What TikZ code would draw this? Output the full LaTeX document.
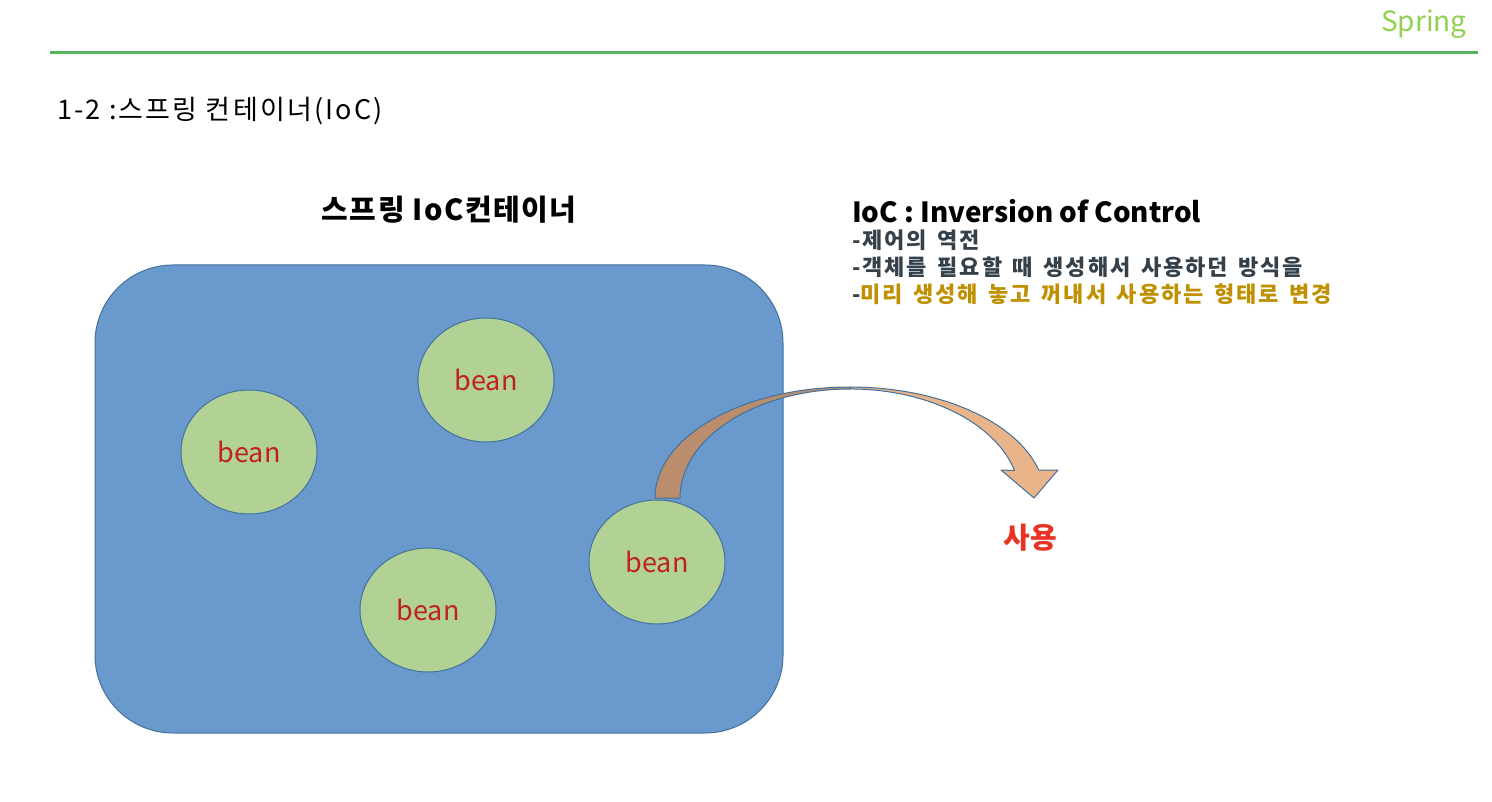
\documentclass[tikz,border=0pt]{standalone}
\usepackage{fontspec}
\setmainfont{Noto Sans CJK KR}
\newfontfamily\krtitle[LetterSpace=8.2]{Noto Sans CJK KR}
\newfontfamily\krlabel[LetterSpace=5]{Noto Sans CJK KR}
\newfontfamily\krinfo[LetterSpace=9,WordSpace=1.5]{Noto Sans CJK KR}
\usetikzlibrary{shapes.geometric}
\definecolor{boxblue}{RGB}{106,153,206}
\definecolor{edgeblue}{RGB}{65,113,156}
\definecolor{beangreen}{RGB}{178,209,149}
\definecolor{beanred}{RGB}{192,32,32}
\definecolor{arrowdark}{RGB}{186,142,108}
\definecolor{arrowlight}{RGB}{233,180,138}
\definecolor{hdrgreen}{RGB}{84,180,92}
\definecolor{springgreen}{RGB}{146,208,80}
\definecolor{slate}{RGB}{52,64,74}
\definecolor{gold}{RGB}{191,144,0}
\definecolor{usered}{RGB}{232,52,36}
\begin{document}
\begin{tikzpicture}[x=1pt,y=-1pt,
  txt/.style={inner sep=0pt, outer sep=0pt},
  beanshape/.style={ellipse, draw=edgeblue, line width=1pt, fill=beangreen,
    minimum width=136pt, minimum height=124pt, inner sep=0pt,
    text=beanred, font=\fontsize{27}{32}\selectfont},
  arrowedge/.style={draw=edgeblue, line width=1pt, line join=round},
  infoline/.style={txt, anchor=west, text=slate, font=\krinfo\bfseries\fontsize{22}{26}\selectfont}]
\path[use as bounding box, fill=white] (0,0) rectangle (1492,802);
% header
\coordinate (hl) at (50,53);
\coordinate (hr) at (1478,53);
\draw[hdrgreen, line width=3pt] (hl) -- (hr);
\node[txt, text=springgreen, font=\fontsize{28}{34}\selectfont] (spring) at (1424,24) {Spring};
\node[txt, anchor=west, font=\krtitle\fontsize{27}{32}\selectfont] (title) at (57,111) {1-2 :스프링 컨테이너(IoC)};
% container
\node[txt, draw=edgeblue, line width=1pt, fill=boxblue, rounded corners=78pt,
  minimum width=688pt, minimum height=468pt] (box) at (439,499) {};
\node[txt, font=\krlabel\bfseries\fontsize{29}{34}\selectfont] (boxlabel) at (449,210) {스프링 IoC컨테이너};
% beans
\node[beanshape] (b1) at (249,452) {bean};
\node[beanshape] (b2) at (486,380) {bean};
\node[beanshape] (b3) at (428,610) {bean};
% curved arrow
\coordinate (abase) at (655,498);
\coordinate (apex) at (850,387);
\filldraw[arrowedge, fill=arrowdark] (abase) arc[start angle=180, end angle=270, x radius=195, y radius=111]
  -- (850,389) arc[start angle=270, end angle=180, x radius=170, y radius=109] -- cycle;
\filldraw[arrowedge, fill=arrowlight] (apex) arc[start angle=270, end angle=345.4, x radius=195, y radius=111]
  -- (1058,470) -- (1034,498) -- (1001,470) -- (1014.5,470.5)
  arc[start angle=345.4, end angle=270, x radius=170, y radius=109] -- cycle;
\node[beanshape] (b4) at (657,562) {bean};
% info text
\node[txt, anchor=west, font=\bfseries\fontsize{27.8}{32}\selectfont] (ioc) at (852,211) {IoC : Inversion of Control};
\node[infoline] (l1) at (852,240) {-제어의 역전};
\node[infoline] (l2) at (852,267) {-객체를 필요할 때 생성해서 사용하던 방식을};
\node[infoline] (l3) at (852,294) {-{\color{gold}미리 생성해 놓고 꺼내서 사용하는 형태로 변경}};
\node[txt, text=usered, font=\bfseries\fontsize{29}{34}\selectfont] (use) at (1030,538) {사용};
\end{tikzpicture}
\end{document}
